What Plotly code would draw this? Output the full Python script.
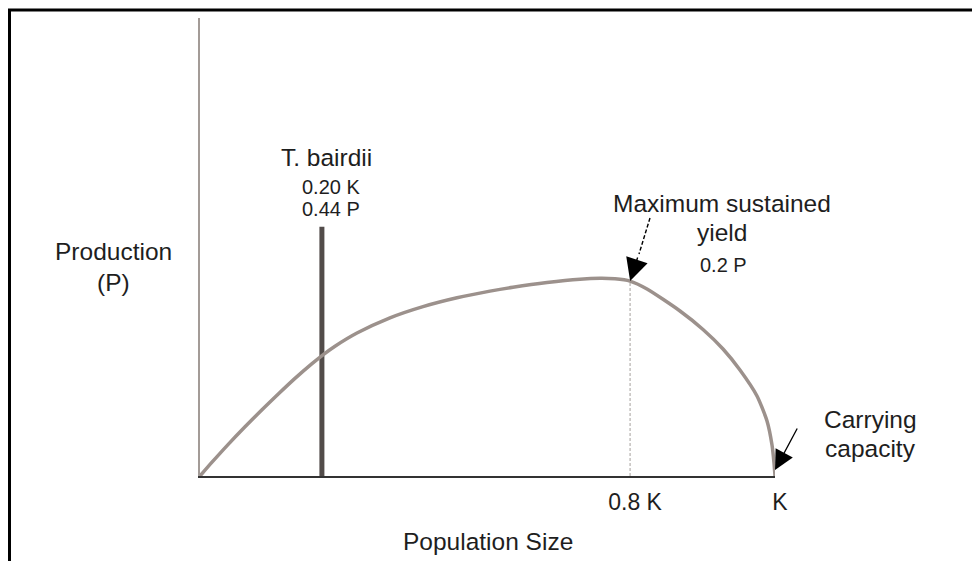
import plotly.graph_objects as go

# ---- data (x in units of K, y in relative production units) ----
pop_size = [0.0, 0.0209, 0.0487, 0.0783, 0.1078, 0.1357, 0.1652, 0.1948, 0.2139,
            0.2348, 0.2730, 0.3304, 0.3878, 0.4470, 0.5043, 0.5443, 0.6035, 0.6609,
            0.6957, 0.7217, 0.7478, 0.7774, 0.8348, 0.8748, 0.9096, 0.9391, 0.9687,
            0.9861, 0.9948, 0.9983, 1.0]
production = [0.0, 0.0301, 0.0686, 0.1075, 0.1447, 0.1785, 0.2131, 0.2453, 0.2646,
              0.2834, 0.3122, 0.3454, 0.3699, 0.3892, 0.4036, 0.4121, 0.4225, 0.4297,
              0.4315, 0.4305, 0.4256, 0.4083, 0.3603, 0.3199, 0.2773, 0.2314, 0.1747,
              0.1201, 0.0677, 0.0284, 0.0]
bairdii_x = 0.212
bairdii_p = 0.544
msy_x = 0.748
msy_p = 0.4256
tick_vals = [msy_x, 1.0]
tick_text = ["0.8 K", "K"]

OFF = 8  # page body margin
W, H = 972, 553
L, T = 192, 10
PW, PH = 575, 458
R, B = W - L - PW, H - T - PH

def px(x):  # page pixel -> paper x
    return (x - OFF - L) / PW

def py(y):  # page pixel -> paper y
    return (T + PH - (y - OFF)) / PH

FONT = "Liberation Sans, Arial, sans-serif"
TXT = "#1e1e1e"

fig = go.Figure()
fig.add_trace(go.Scatter(x=[bairdii_x, bairdii_x], y=[0, bairdii_p], mode="lines",
                         line=dict(color="#524c4a", width=5), hoverinfo="skip"))
fig.add_trace(go.Scatter(x=[msy_x, msy_x], y=[0, msy_p], mode="lines",
                         line=dict(color="#c4c0be", width=1.5, dash="3px,2px"),
                         hoverinfo="skip"))
fig.add_trace(go.Scatter(x=pop_size, y=production, mode="lines",
                         line=dict(color="#9c918c", width=3.5, shape="spline",
                                   smoothing=0.6),
                         hoverinfo="skip"))

anns = []
def txt(text, x, y, size=24.5):
    anns.append(dict(text=text, x=px(x), y=py(y), xref="paper", yref="paper",
                     showarrow=False, xanchor="center", yanchor="middle",
                     font=dict(family=FONT, size=size, color=TXT)))

txt("T. bairdii", 326, 157)
txt("0.20 K", 331, 187, 20)
txt("0.44 P", 331, 209, 20)
txt("Maximum sustained", 722, 204)
txt("yield", 722, 232)
txt("0.2 P", 723, 265, 20)
txt("Production", 113, 251)
txt("(P)", 113, 282)
txt("Carrying", 870, 419)
txt("capacity", 870, 448)
txt("Population Size", 488, 541)

# arrow heads
anns.append(dict(x=msy_x, y=msy_p, xref="x", yref="y", text="", showarrow=True,
                 ax=8, ay=-25, arrowhead=2, arrowsize=3.2, arrowwidth=1.4,
                 arrowcolor="#000000", standoff=0))
anns.append(dict(x=1.0, y=0.013, xref="x", yref="y", text="", showarrow=True,
                 ax=23, ay=-43, arrowhead=2, arrowsize=3.0, arrowwidth=1.3,
                 arrowcolor="#000000", standoff=0))

shapes = [
    dict(type="line", xref="paper", yref="paper", x0=px(650), y0=py(218),
         x1=px(639), y1=py(254), line=dict(color="#000000", width=1.4, dash="4px,2px")),
    dict(type="rect", xref="paper", yref="paper", x0=px(9.5), x1=px(975.5),
         y0=py(600), y1=py(10), line=dict(color="#000000", width=3)),
]

fig.update_layout(
    width=W, height=H, margin=dict(l=L, r=R, t=T, b=B),
    paper_bgcolor="white", plot_bgcolor="white", showlegend=False,
    annotations=anns, shapes=shapes,
    xaxis=dict(range=[0, 1], showline=True, linecolor="#333333", linewidth=2,
               showgrid=False, zeroline=False, tickvals=tick_vals, ticktext=tick_text,
               ticks="", ticklabelstandoff=4, ticklabelshift=5,
               tickfont=dict(family=FONT, size=23, color=TXT), fixedrange=True),
    yaxis=dict(range=[0, 1], showline=True, linecolor="#a39b97", linewidth=2,
               showgrid=False, zeroline=False, showticklabels=False, ticks="",
               fixedrange=True),
)

fig.write_html("out.html")
